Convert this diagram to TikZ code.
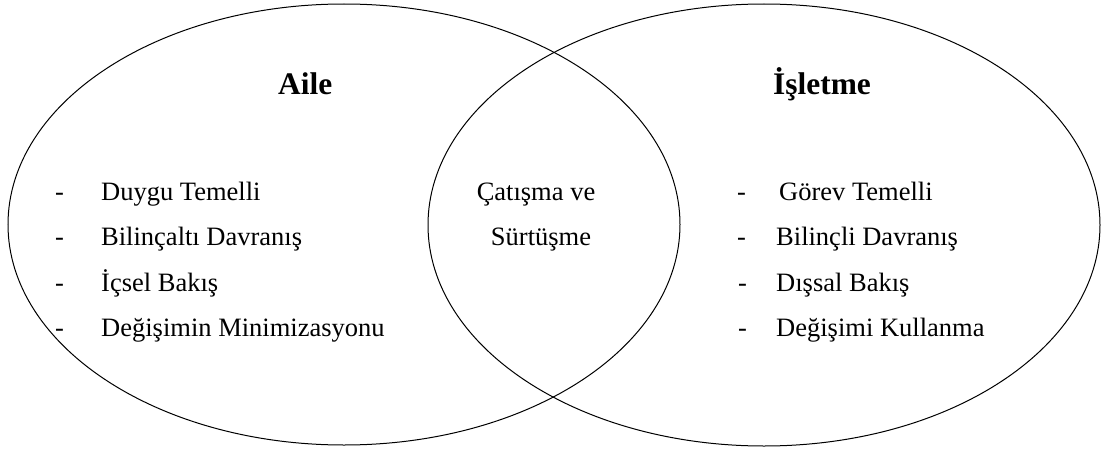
\documentclass[tikz,border=0pt]{standalone}
\usepackage{fontspec}
\setmainfont{Liberation Serif}
\begin{document}
\begin{tikzpicture}[x=1pt,y=-1pt,
  body/.style={anchor=base west,inner sep=0pt,font=\fontsize{26.5}{30}\selectfont},
  head/.style={anchor=base west,inner sep=0pt,font=\fontsize{31.4}{36}\selectfont\bfseries},
  mid/.style={anchor=base,inner sep=0pt,font=\fontsize{26.5}{30}\selectfont},
  ring/.style={draw=black,line width=1pt}]
\useasboundingbox (0,0) rectangle (1103,452);
\draw[ring] (344,224.5) ellipse [x radius=336, y radius=220.5];
\draw[ring] (764,225) ellipse [x radius=336, y radius=221];
\node[head] (aile) at (278,95) {Aile};
\node[head] (isletme) at (773,95) {İşletme};
\node[body] (ld1) at (55,200) {-};
\node[body] (l1) at (101,200) {Duygu Temelli};
\node[body] (ld2) at (55,245.5) {-};
\node[body] (l2) at (101,245.5) {Bilinçaltı Davranış};
\node[body] (ld3) at (55,291) {-};
\node[body] (l3) at (101,291) {İçsel Bakış};
\node[body] (ld4) at (55,336.5) {-};
\node[body] (l4) at (101,336.5) {Değişimin Minimizasyonu};
\node[mid] (m1) at (536,200) {Çatışma ve};
\node[mid] (m2) at (541,245.5) {Sürtüşme};
\node[body] (rd1) at (737,200) {-};
\node[body] (r1) at (779,200) {Görev Temelli};
\node[body] (rd2) at (737,245.5) {-};
\node[body] (r2) at (776,245.5) {Bilinçli Davranış};
\node[body] (rd3) at (738,291) {-};
\node[body] (r3) at (776,291) {Dışsal Bakış};
\node[body] (rd4) at (738,336.5) {-};
\node[body] (r4) at (776,336.5) {Değişimi Kullanma};
\end{tikzpicture}
\end{document}
